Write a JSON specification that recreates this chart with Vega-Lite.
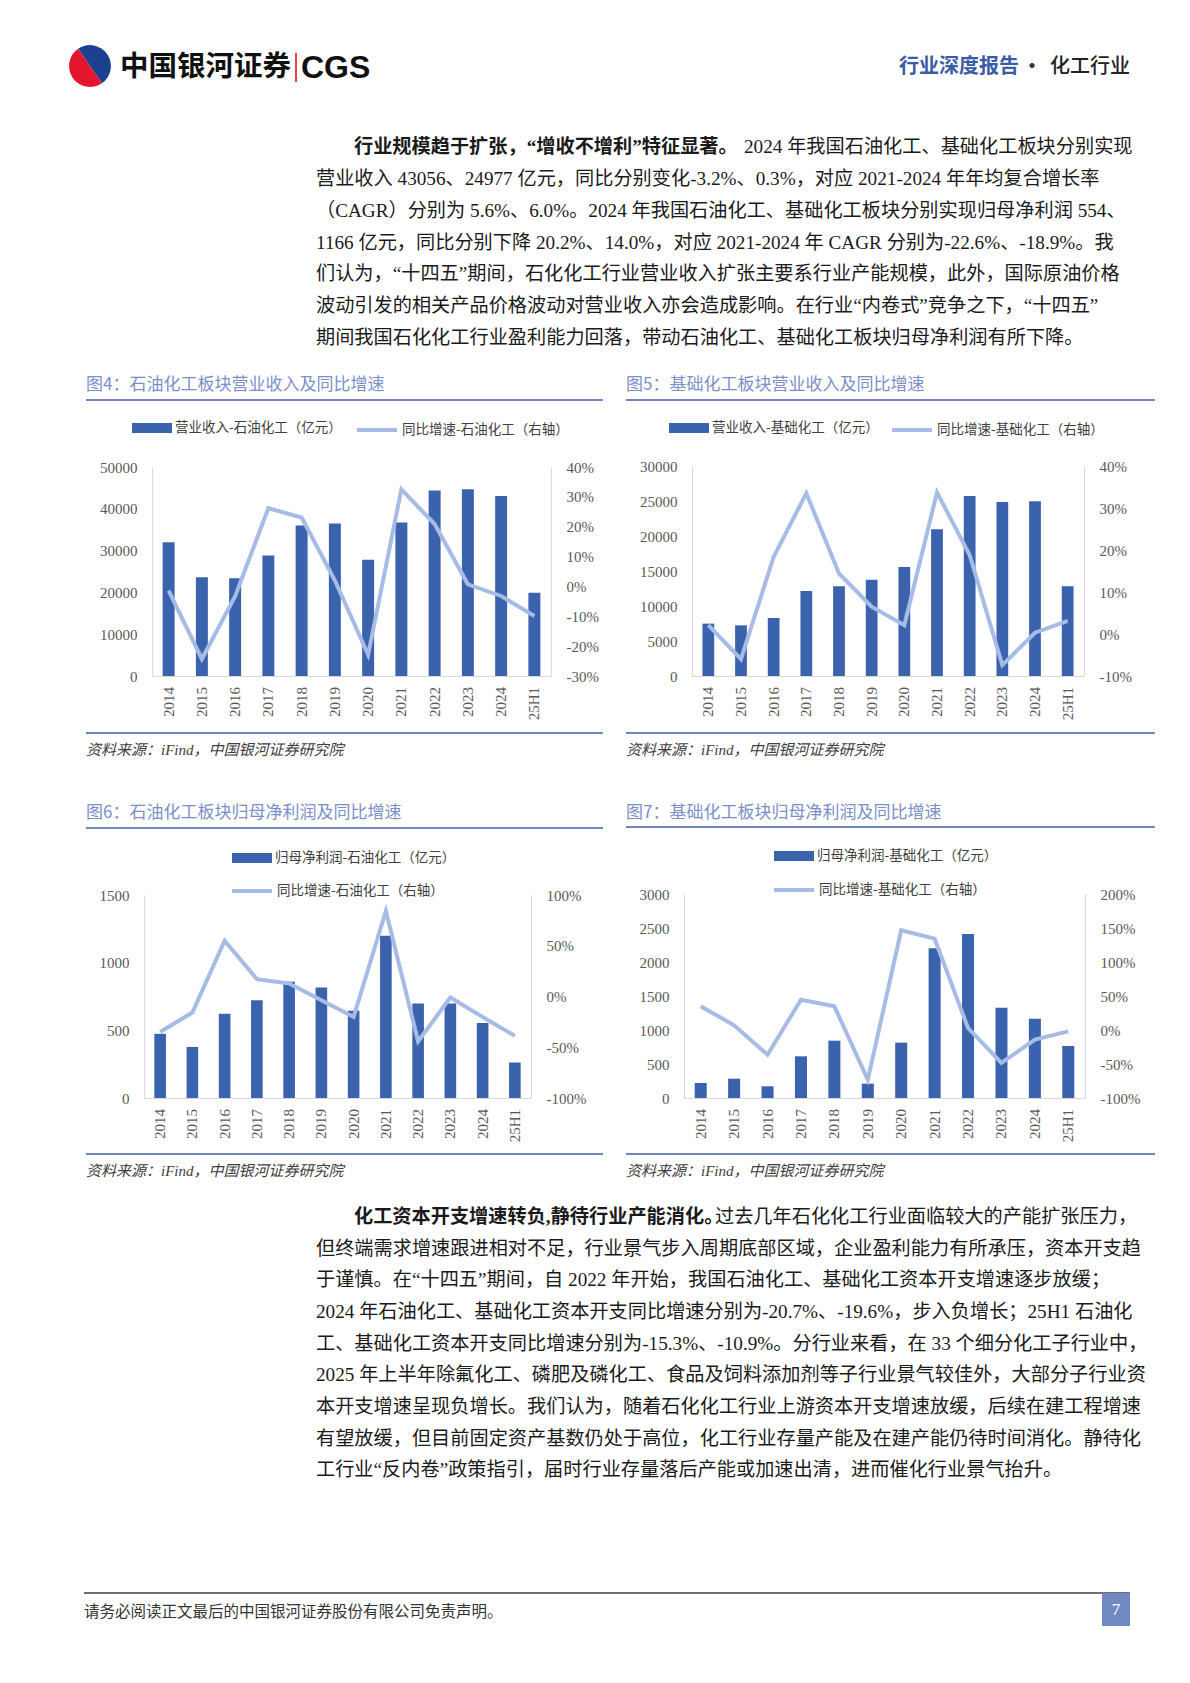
{
  "$schema": "https://vega.github.io/schema/vega-lite/v6.json",
  "background": "white",
  "padding": 0,
  "autosize": {"type": "none"},
  "width": 1190,
  "height": 1683,
  "config": {
    "view": {"stroke": null},
    "axis": {"domainColor": "#d9d9d9", "domainWidth": 1.2, "ticks": false, "grid": false, "labelFont": "Liberation Serif", "labelFontSize": 15, "labelColor": "#595959"},
    "legend": {"labelLimit": 0, "labelFont": "Noto Sans CJK SC", "labelFontSize": 13.5, "labelColor": "#404040", "labelOffset": 3, "padding": 0}
  },
  "datasets": {
    "c4": [
      {"year": "2014", "rev": 32000, "yoy": -1.4},
      {"year": "2015", "rev": 23600, "yoy": -24.3},
      {"year": "2016", "rev": 23400, "yoy": -3.3},
      {"year": "2017", "rev": 28800, "yoy": 26.2},
      {"year": "2018", "rev": 36000, "yoy": 23.1},
      {"year": "2019", "rev": 36500, "yoy": 2.0},
      {"year": "2020", "rev": 27800, "yoy": -22.9},
      {"year": "2021", "rev": 36700, "yoy": 32.5},
      {"year": "2022", "rev": 44400, "yoy": 20.9},
      {"year": "2023", "rev": 44700, "yoy": 0.7},
      {"year": "2024", "rev": 43056, "yoy": -3.2},
      {"year": "25H1", "rev": 19900, "yoy": -9.9}
    ],
    "c5": [
      {"year": "2014", "rev": 7480, "yoy": 2.1},
      {"year": "2015", "rev": 7240, "yoy": -6.0},
      {"year": "2016", "rev": 8290, "yoy": 18.4},
      {"year": "2017", "rev": 12140, "yoy": 33.5},
      {"year": "2018", "rev": 12810, "yoy": 14.4},
      {"year": "2019", "rev": 13760, "yoy": 6.5},
      {"year": "2020", "rev": 15570, "yoy": 2.1},
      {"year": "2021", "rev": 20950, "yoy": 33.7},
      {"year": "2022", "rev": 25710, "yoy": 18.8},
      {"year": "2023", "rev": 24860, "yoy": -7.4},
      {"year": "2024", "rev": 24977, "yoy": 0.3},
      {"year": "25H1", "rev": 12810, "yoy": 3.1}
    ],
    "c6": [
      {"year": "2014", "rev": 474, "yoy": -34.9},
      {"year": "2015", "rev": 377, "yoy": -15.8},
      {"year": "2016", "rev": 622, "yoy": 54.9},
      {"year": "2017", "rev": 723, "yoy": 17.1},
      {"year": "2018", "rev": 859, "yoy": 12.8},
      {"year": "2019", "rev": 817, "yoy": -3.6},
      {"year": "2020", "rev": 644, "yoy": -20.1},
      {"year": "2021", "rev": 1199, "yoy": 84.2},
      {"year": "2022", "rev": 698, "yoy": -44.1},
      {"year": "2023", "rev": 698, "yoy": -1.0},
      {"year": "2024", "rev": 554, "yoy": -20.2},
      {"year": "25H1", "rev": 262, "yoy": -38.8}
    ],
    "c7": [
      {"year": "2014", "rev": 221, "yoy": 34.8},
      {"year": "2015", "rev": 284, "yoy": 6.9},
      {"year": "2016", "rev": 172, "yoy": -36.3},
      {"year": "2017", "rev": 613, "yoy": 44.6},
      {"year": "2018", "rev": 843, "yoy": 34.8},
      {"year": "2019", "rev": 211, "yoy": -73.0},
      {"year": "2020", "rev": 814, "yoy": 146.6},
      {"year": "2021", "rev": 2201, "yoy": 134.3},
      {"year": "2022", "rev": 2412, "yoy": 2.9},
      {"year": "2023", "rev": 1328, "yoy": -48.5},
      {"year": "2024", "rev": 1166, "yoy": -14.0},
      {"year": "25H1", "rev": 765, "yoy": -2.0}
    ],
    "p1": [
      {"line": 1, "seg": "bold", "t": "行业规模趋于扩张，“增收不增利”特征显著。"},
      {"line": 1, "seg": "lead", "t": "2024 年我国石油化工、基础化工板块分别实现"},
      {"line": 2, "seg": "body", "t": "营业收入 43056、24977 亿元，同比分别变化-3.2%、0.3%，对应 2021-2024 年年均复合增长率"},
      {"line": 3, "seg": "body", "t": "（CAGR）分别为 5.6%、6.0%。2024 年我国石油化工、基础化工板块分别实现归母净利润 554、"},
      {"line": 4, "seg": "body", "t": "1166 亿元，同比分别下降 20.2%、14.0%，对应 2021-2024 年 CAGR 分别为-22.6%、-18.9%。我"},
      {"line": 5, "seg": "body", "t": "们认为，“十四五”期间，石化化工行业营业收入扩张主要系行业产能规模，此外，国际原油价格"},
      {"line": 6, "seg": "body", "t": "波动引发的相关产品价格波动对营业收入亦会造成影响。在行业“内卷式”竞争之下，“十四五”"},
      {"line": 7, "seg": "body", "t": "期间我国石化化工行业盈利能力回落，带动石油化工、基础化工板块归母净利润有所下降。"}
    ],
    "p2": [
      {"line": 1, "seg": "bold", "t": "化工资本开支增速转负,静待行业产能消化。"},
      {"line": 1, "seg": "lead", "t": "过去几年石化化工行业面临较大的产能扩张压力，"},
      {"line": 2, "seg": "body", "t": "但终端需求增速跟进相对不足，行业景气步入周期底部区域，企业盈利能力有所承压，资本开支趋"},
      {"line": 3, "seg": "body", "t": "于谨慎。在“十四五”期间，自 2022 年开始，我国石油化工、基础化工资本开支增速逐步放缓；"},
      {"line": 4, "seg": "body", "t": "2024 年石油化工、基础化工资本开支同比增速分别为-20.7%、-19.6%，步入负增长；25H1 石油化"},
      {"line": 5, "seg": "body", "t": "工、基础化工资本开支同比增速分别为-15.3%、-10.9%。分行业来看，在 33 个细分化工子行业中，"},
      {"line": 6, "seg": "body", "t": "2025 年上半年除氟化工、磷肥及磷化工、食品及饲料添加剂等子行业景气较佳外，大部分子行业资"},
      {"line": 7, "seg": "body", "t": "本开支增速呈现负增长。我们认为，随着石化化工行业上游资本开支增速放缓，后续在建工程增速"},
      {"line": 8, "seg": "body", "t": "有望放缓，但目前固定资产基数仍处于高位，化工行业存量产能及在建产能仍待时间消化。静待化"},
      {"line": 9, "seg": "body", "t": "工行业“反内卷”政策指引，届时行业存量落后产能或加速出清，进而催化行业景气抬升。"}
    ],
    "titles": [
      {"k": "t4", "t": "图4：石油化工板块营业收入及同比增速"},
      {"k": "t5", "t": "图5：基础化工板块营业收入及同比增速"},
      {"k": "t6", "t": "图6：石油化工板块归母净利润及同比增速"},
      {"k": "t7", "t": "图7：基础化工板块归母净利润及同比增速"},
      {"k": "src", "t": "资料来源：iFind，中国银河证券研究院"}
    ]
  },
  "layer": [
    {"data": {"values": [{"p": "b", "v": 1}, {"p": "r", "v": 1}]},
     "mark": {"type": "arc", "outerRadius": 21},
     "encoding": {"theta": {"field": "v", "type": "quantitative", "scale": {"range": [-0.6, 5.68]}},
                  "color": {"field": "p", "type": "nominal", "scale": {"domain": ["b", "r"], "range": ["#1d3f8f", "#e3162b"]}, "legend": null},
                  "x": {"value": 90}, "y": {"value": 66}}},
    {"data": {"values": [{"t": "中国银河证券"}]},
     "mark": {"type": "text", "align": "left", "baseline": "middle", "font": "Noto Sans CJK SC", "fontWeight": "bold", "fontSize": 28.5, "color": "#111111"},
     "encoding": {"text": {"field": "t"}, "x": {"value": 120}, "y": {"value": 67}}},
    {"data": {"values": [{}]},
     "mark": {"type": "rule", "color": "#e60012", "strokeWidth": 1.5},
     "encoding": {"x": {"value": 296}, "y": {"value": 53}, "y2": {"value": 82}}},
    {"data": {"values": [{"t": "CGS"}]},
     "mark": {"type": "text", "align": "left", "baseline": "middle", "font": "Liberation Sans", "fontWeight": "bold", "fontSize": 32, "color": "#111111"},
     "encoding": {"text": {"field": "t"}, "x": {"value": 301}, "y": {"value": 68}}},
    {"data": {"values": [{"t": "行业深度报告"}]},
     "mark": {"type": "text", "align": "right", "baseline": "middle", "font": "Noto Sans CJK SC", "fontWeight": "bold", "fontSize": 20, "color": "#3a5ba5"},
     "encoding": {"text": {"field": "t"}, "x": {"value": 1019}, "y": {"value": 67}}},
    {"data": {"values": [{"t": "·"}]},
     "mark": {"type": "text", "align": "center", "baseline": "middle", "font": "Noto Sans CJK SC", "fontWeight": "bold", "fontSize": 20, "color": "#333333"},
     "encoding": {"text": {"field": "t"}, "x": {"value": 1032}, "y": {"value": 67}}},
    {"data": {"values": [{"t": "化工行业"}]},
     "mark": {"type": "text", "align": "right", "baseline": "middle", "font": "Noto Sans CJK SC", "fontWeight": 500, "fontSize": 20, "color": "#222222"},
     "encoding": {"text": {"field": "t"}, "x": {"value": 1130}, "y": {"value": 67}}},

    {"data": {"name": "p1"},
     "encoding": {
       "text": {"field": "t"},
       "y": {"field": "line", "type": "quantitative", "scale": {"domain": [0, 10], "range": [115.2, 433.5]}, "axis": null}
     },
     "layer": [
       {"transform": [{"filter": "datum.seg == 'bold'"}],
        "mark": {"type": "text", "align": "left", "baseline": "middle", "font": "Liberation Serif, Noto Sans CJK SC", "fontWeight": "bold", "fontSize": 19.2, "color": "#1a1a1a"},
        "encoding": {"x": {"value": 354}}},
       {"transform": [{"filter": "datum.seg == 'lead'"}],
        "mark": {"type": "text", "align": "left", "baseline": "middle", "font": "Liberation Serif, Noto Sans CJK SC", "fontSize": 19.2, "color": "#1a1a1a"},
        "encoding": {"x": {"value": 744}}},
       {"transform": [{"filter": "datum.seg == 'body'"}],
        "mark": {"type": "text", "align": "left", "baseline": "middle", "font": "Liberation Serif, Noto Sans CJK SC", "fontSize": 19.2, "color": "#1a1a1a"},
        "encoding": {"x": {"value": 316}}}
     ]},

    {"data": {"name": "titles"}, "transform": [{"filter": "datum.k == 't4'"}],
     "mark": {"type": "text", "align": "left", "baseline": "middle", "font": "Noto Sans CJK SC", "fontSize": 17, "color": "#7b90c8"},
     "encoding": {"text": {"field": "t"}, "x": {"value": 86}, "y": {"value": 385}}},
    {"data": {"name": "titles"}, "transform": [{"filter": "datum.k == 't5'"}],
     "mark": {"type": "text", "align": "left", "baseline": "middle", "font": "Noto Sans CJK SC", "fontSize": 17, "color": "#7b90c8"},
     "encoding": {"text": {"field": "t"}, "x": {"value": 626}, "y": {"value": 385}}},
    {"data": {"name": "titles"}, "transform": [{"filter": "datum.k == 't6'"}],
     "mark": {"type": "text", "align": "left", "baseline": "middle", "font": "Noto Sans CJK SC", "fontSize": 17, "color": "#7b90c8"},
     "encoding": {"text": {"field": "t"}, "x": {"value": 86}, "y": {"value": 813}}},
    {"data": {"name": "titles"}, "transform": [{"filter": "datum.k == 't7'"}],
     "mark": {"type": "text", "align": "left", "baseline": "middle", "font": "Noto Sans CJK SC", "fontSize": 17, "color": "#7b90c8"},
     "encoding": {"text": {"field": "t"}, "x": {"value": 626}, "y": {"value": 813}}},
    {"data": {"name": "titles"}, "transform": [{"filter": "datum.k == 'src'"}],
     "mark": {"type": "text", "align": "left", "baseline": "middle", "font": "Liberation Serif, Noto Sans CJK SC", "fontStyle": "italic", "fontSize": 15, "color": "#404040"},
     "encoding": {"text": {"field": "t"}, "x": {"value": 86}, "y": {"value": 750}}},
    {"data": {"name": "titles"}, "transform": [{"filter": "datum.k == 'src'"}],
     "mark": {"type": "text", "align": "left", "baseline": "middle", "font": "Liberation Serif, Noto Sans CJK SC", "fontStyle": "italic", "fontSize": 15, "color": "#404040"},
     "encoding": {"text": {"field": "t"}, "x": {"value": 626}, "y": {"value": 750}}},
    {"data": {"name": "titles"}, "transform": [{"filter": "datum.k == 'src'"}],
     "mark": {"type": "text", "align": "left", "baseline": "middle", "font": "Liberation Serif, Noto Sans CJK SC", "fontStyle": "italic", "fontSize": 15, "color": "#404040"},
     "encoding": {"text": {"field": "t"}, "x": {"value": 86}, "y": {"value": 1171}}},
    {"data": {"name": "titles"}, "transform": [{"filter": "datum.k == 'src'"}],
     "mark": {"type": "text", "align": "left", "baseline": "middle", "font": "Liberation Serif, Noto Sans CJK SC", "fontStyle": "italic", "fontSize": 15, "color": "#404040"},
     "encoding": {"text": {"field": "t"}, "x": {"value": 626}, "y": {"value": 1171}}},

    {"data": {"values": [{}]}, "mark": {"type": "rule", "color": "#6f86bf", "strokeWidth": 2},
     "encoding": {"x": {"value": 86}, "x2": {"value": 603}, "y": {"value": 400}}},
    {"data": {"values": [{}]}, "mark": {"type": "rule", "color": "#6f86bf", "strokeWidth": 2},
     "encoding": {"x": {"value": 626}, "x2": {"value": 1155}, "y": {"value": 400}}},
    {"data": {"values": [{}]}, "mark": {"type": "rule", "color": "#6f86bf", "strokeWidth": 2},
     "encoding": {"x": {"value": 86}, "x2": {"value": 603}, "y": {"value": 733}}},
    {"data": {"values": [{}]}, "mark": {"type": "rule", "color": "#6f86bf", "strokeWidth": 2},
     "encoding": {"x": {"value": 626}, "x2": {"value": 1155}, "y": {"value": 733}}},
    {"data": {"values": [{}]}, "mark": {"type": "rule", "color": "#6f86bf", "strokeWidth": 2},
     "encoding": {"x": {"value": 86}, "x2": {"value": 603}, "y": {"value": 828}}},
    {"data": {"values": [{}]}, "mark": {"type": "rule", "color": "#6f86bf", "strokeWidth": 2},
     "encoding": {"x": {"value": 626}, "x2": {"value": 1155}, "y": {"value": 827}}},
    {"data": {"values": [{}]}, "mark": {"type": "rule", "color": "#6f86bf", "strokeWidth": 2},
     "encoding": {"x": {"value": 86}, "x2": {"value": 603}, "y": {"value": 1154}}},
    {"data": {"values": [{}]}, "mark": {"type": "rule", "color": "#6f86bf", "strokeWidth": 2},
     "encoding": {"x": {"value": 626}, "x2": {"value": 1155}, "y": {"value": 1154}}},

    {"data": {"values": [{}]}, "mark": {"type": "rule", "color": "#d9d9d9", "strokeWidth": 1.2},
     "encoding": {"x": {"value": 152}, "x2": {"value": 551}, "y": {"value": 676.5}}},
    {"data": {"values": [{}]}, "mark": {"type": "rule", "color": "#d9d9d9", "strokeWidth": 1.2},
     "encoding": {"x": {"value": 692}, "x2": {"value": 1084}, "y": {"value": 676.5}}},
    {"data": {"values": [{}]}, "mark": {"type": "rule", "color": "#d9d9d9", "strokeWidth": 1.2},
     "encoding": {"x": {"value": 144}, "x2": {"value": 531}, "y": {"value": 1098.5}}},
    {"data": {"values": [{}]}, "mark": {"type": "rule", "color": "#d9d9d9", "strokeWidth": 1.2},
     "encoding": {"x": {"value": 684}, "x2": {"value": 1085}, "y": {"value": 1098.5}}},

    {"data": {"name": "c4"},
     "layer": [
       {"mark": {"type": "bar"},
        "encoding": {
          "x": {"field": "year", "type": "nominal", "sort": null, "scale": {"range": [152, 551], "paddingInner": 0.64, "paddingOuter": 0.32}, "axis": null},
          "y": {"field": "rev", "type": "quantitative", "scale": {"domain": [0, 50000], "nice": false, "range": [676, 467]}, "axis": {"title": null, "orient": "left", "offset": -152, "values": [0, 10000, 20000, 30000, 40000, 50000], "format": "d", "labelPadding": 15}},
          "color": {"datum": "营业收入-石油化工（亿元）", "scale": {"range": ["#3b63ad"]},
                    "legend": {"orient": "none", "legendX": 132, "legendY": 408, "title": null, "symbolType": "M-1,-0.25H1V0.25H-1Z", "symbolSize": 1600, "symbolStrokeWidth": 0}}
        }},
       {"mark": {"type": "line", "strokeWidth": 4},
        "encoding": {
          "x": {"field": "year", "type": "nominal", "sort": null},
          "y": {"field": "yoy", "type": "quantitative", "scale": {"domain": [-30, 40], "nice": false, "zero": false, "range": [676, 467]}, "axis": {"title": null, "orient": "right", "offset": -639, "values": [-30, -20, -10, 0, 10, 20, 30, 40], "labelExpr": "datum.value + '%'", "labelPadding": 15}},
          "stroke": {"datum": "同比增速-石油化工（右轴）", "scale": {"range": ["#a6bbe5"]},
                     "legend": {"orient": "none", "legendX": 355, "legendY": 408, "title": null, "symbolType": "stroke", "symbolSize": 1600, "symbolStrokeWidth": 4}}
        }},
       {"mark": {"type": "text", "angle": 270, "align": "right", "baseline": "middle", "font": "Liberation Serif", "fontSize": 15, "color": "#595959"},
        "encoding": {"x": {"field": "year", "type": "nominal", "sort": null}, "y": {"value": 687}, "text": {"field": "year"}}}
     ],
     "resolve": {"scale": {"y": "independent"}}},

    {"data": {"name": "c5"},
     "layer": [
       {"mark": {"type": "bar"},
        "encoding": {
          "x": {"field": "year", "type": "nominal", "sort": null, "scale": {"range": [692, 1084], "paddingInner": 0.64, "paddingOuter": 0.32}, "axis": null},
          "y": {"field": "rev", "type": "quantitative", "scale": {"domain": [0, 30000], "nice": false, "range": [676, 466]}, "axis": {"title": null, "orient": "left", "offset": -692, "values": [0, 5000, 10000, 15000, 20000, 25000, 30000], "format": "d", "labelPadding": 15}},
          "color": {"datum": "营业收入-基础化工（亿元）", "scale": {"range": ["#3b63ad"]},
                    "legend": {"orient": "none", "legendX": 669, "legendY": 408, "title": null, "symbolType": "M-1,-0.25H1V0.25H-1Z", "symbolSize": 1600, "symbolStrokeWidth": 0}}
        }},
       {"mark": {"type": "line", "strokeWidth": 4},
        "encoding": {
          "x": {"field": "year", "type": "nominal", "sort": null},
          "y": {"field": "yoy", "type": "quantitative", "scale": {"domain": [-10, 40], "nice": false, "zero": false, "range": [676, 466]}, "axis": {"title": null, "orient": "right", "offset": -106, "values": [-10, 0, 10, 20, 30, 40], "labelExpr": "datum.value + '%'", "labelPadding": 15}},
          "stroke": {"datum": "同比增速-基础化工（右轴）", "scale": {"range": ["#a6bbe5"]},
                     "legend": {"orient": "none", "legendX": 890, "legendY": 408, "title": null, "symbolType": "stroke", "symbolSize": 1600, "symbolStrokeWidth": 4}}
        }},
       {"mark": {"type": "text", "angle": 270, "align": "right", "baseline": "middle", "font": "Liberation Serif", "fontSize": 15, "color": "#595959"},
        "encoding": {"x": {"field": "year", "type": "nominal", "sort": null}, "y": {"value": 687}, "text": {"field": "year"}}}
     ],
     "resolve": {"scale": {"y": "independent"}}},

    {"data": {"name": "c6"},
     "layer": [
       {"mark": {"type": "bar"},
        "encoding": {
          "x": {"field": "year", "type": "nominal", "sort": null, "scale": {"range": [144, 531], "paddingInner": 0.64, "paddingOuter": 0.32}, "axis": null},
          "y": {"field": "rev", "type": "quantitative", "scale": {"domain": [0, 1500], "nice": false, "range": [1098, 895]}, "axis": {"title": null, "orient": "left", "offset": -144, "values": [0, 500, 1000, 1500], "format": "d", "labelPadding": 15}},
          "color": {"datum": "归母净利润-石油化工（亿元）", "scale": {"range": ["#3b63ad"]},
                    "legend": {"orient": "none", "legendX": 232, "legendY": 838, "title": null, "symbolType": "M-1,-0.25H1V0.25H-1Z", "symbolSize": 1600, "symbolStrokeWidth": 0}}
        }},
       {"mark": {"type": "line", "strokeWidth": 4},
        "encoding": {
          "x": {"field": "year", "type": "nominal", "sort": null},
          "y": {"field": "yoy", "type": "quantitative", "scale": {"domain": [-100, 100], "nice": false, "zero": false, "range": [1098, 895]}, "axis": {"title": null, "orient": "right", "offset": -659, "values": [-100, -50, 0, 50, 100], "labelExpr": "datum.value + '%'", "labelPadding": 15}},
          "stroke": {"datum": "同比增速-石油化工（右轴）", "scale": {"range": ["#a6bbe5"]},
                     "legend": {"orient": "none", "legendX": 230, "legendY": 869, "title": null, "symbolType": "stroke", "symbolSize": 1600, "symbolStrokeWidth": 4}}
        }},
       {"mark": {"type": "text", "angle": 270, "align": "right", "baseline": "middle", "font": "Liberation Serif", "fontSize": 15, "color": "#595959"},
        "encoding": {"x": {"field": "year", "type": "nominal", "sort": null}, "y": {"value": 1109}, "text": {"field": "year"}}}
     ],
     "resolve": {"scale": {"y": "independent"}}},

    {"data": {"name": "c7"},
     "layer": [
       {"mark": {"type": "bar"},
        "encoding": {
          "x": {"field": "year", "type": "nominal", "sort": null, "scale": {"range": [684, 1085], "paddingInner": 0.64, "paddingOuter": 0.32}, "axis": null},
          "y": {"field": "rev", "type": "quantitative", "scale": {"domain": [0, 3000], "nice": false, "range": [1098, 894]}, "axis": {"title": null, "orient": "left", "offset": -684, "values": [0, 500, 1000, 1500, 2000, 2500, 3000], "format": "d", "labelPadding": 15}},
          "color": {"datum": "归母净利润-基础化工（亿元）", "scale": {"range": ["#3b63ad"]},
                    "legend": {"orient": "none", "legendX": 774, "legendY": 836, "title": null, "symbolType": "M-1,-0.25H1V0.25H-1Z", "symbolSize": 1600, "symbolStrokeWidth": 0}}
        }},
       {"mark": {"type": "line", "strokeWidth": 4},
        "encoding": {
          "x": {"field": "year", "type": "nominal", "sort": null},
          "y": {"field": "yoy", "type": "quantitative", "scale": {"domain": [-100, 200], "nice": false, "zero": false, "range": [1098, 894]}, "axis": {"title": null, "orient": "right", "offset": -105, "values": [-100, -50, 0, 50, 100, 150, 200], "labelExpr": "datum.value + '%'", "labelPadding": 15}},
          "stroke": {"datum": "同比增速-基础化工（右轴）", "scale": {"range": ["#a6bbe5"]},
                     "legend": {"orient": "none", "legendX": 772, "legendY": 868, "title": null, "symbolType": "stroke", "symbolSize": 1600, "symbolStrokeWidth": 4}}
        }},
       {"mark": {"type": "text", "angle": 270, "align": "right", "baseline": "middle", "font": "Liberation Serif", "fontSize": 15, "color": "#595959"},
        "encoding": {"x": {"field": "year", "type": "nominal", "sort": null}, "y": {"value": 1109}, "text": {"field": "year"}}}
     ],
     "resolve": {"scale": {"y": "independent"}}},

    {"data": {"name": "p2"},
     "encoding": {
       "text": {"field": "t"},
       "y": {"field": "line", "type": "quantitative", "scale": {"domain": [0, 10], "range": [1185.35, 1501.85]}, "axis": null}
     },
     "layer": [
       {"transform": [{"filter": "datum.seg == 'bold'"}],
        "mark": {"type": "text", "align": "left", "baseline": "middle", "font": "Liberation Serif, Noto Sans CJK SC", "fontWeight": "bold", "fontSize": 19.2, "color": "#1a1a1a"},
        "encoding": {"x": {"value": 354}}},
       {"transform": [{"filter": "datum.seg == 'lead'"}],
        "mark": {"type": "text", "align": "left", "baseline": "middle", "font": "Liberation Serif, Noto Sans CJK SC", "fontSize": 19.2, "color": "#1a1a1a"},
        "encoding": {"x": {"value": 715}}},
       {"transform": [{"filter": "datum.seg == 'body'"}],
        "mark": {"type": "text", "align": "left", "baseline": "middle", "font": "Liberation Serif, Noto Sans CJK SC", "fontSize": 19.2, "color": "#1a1a1a"},
        "encoding": {"x": {"value": 316}}}
     ]},

    {"data": {"values": [{}]},
     "mark": {"type": "rule", "color": "#404040", "strokeWidth": 1.5},
     "encoding": {"x": {"value": 84}, "x2": {"value": 1130}, "y": {"value": 1593}}},
    {"data": {"values": [{"t": "请务必阅读正文最后的中国银河证券股份有限公司免责声明。"}]},
     "mark": {"type": "text", "align": "left", "baseline": "middle", "font": "Noto Sans CJK SC", "fontSize": 15.5, "color": "#333333"},
     "encoding": {"text": {"field": "t"}, "x": {"value": 84}, "y": {"value": 1612}}},
    {"data": {"values": [{}]},
     "mark": {"type": "rect", "color": "#7189c2"},
     "encoding": {"x": {"value": 1102}, "x2": {"value": 1130}, "y": {"value": 1593}, "y2": {"value": 1626}}},
    {"data": {"values": [{"t": "7"}]},
     "mark": {"type": "text", "align": "center", "baseline": "middle", "font": "Liberation Serif", "fontSize": 17, "color": "#ffffff"},
     "encoding": {"text": {"field": "t"}, "x": {"value": 1116}, "y": {"value": 1610}}}
  ],
  "resolve": {"scale": {"x": "independent", "y": "independent", "color": "independent", "stroke": "independent"}, "legend": {"color": "independent", "stroke": "independent"}}
}
